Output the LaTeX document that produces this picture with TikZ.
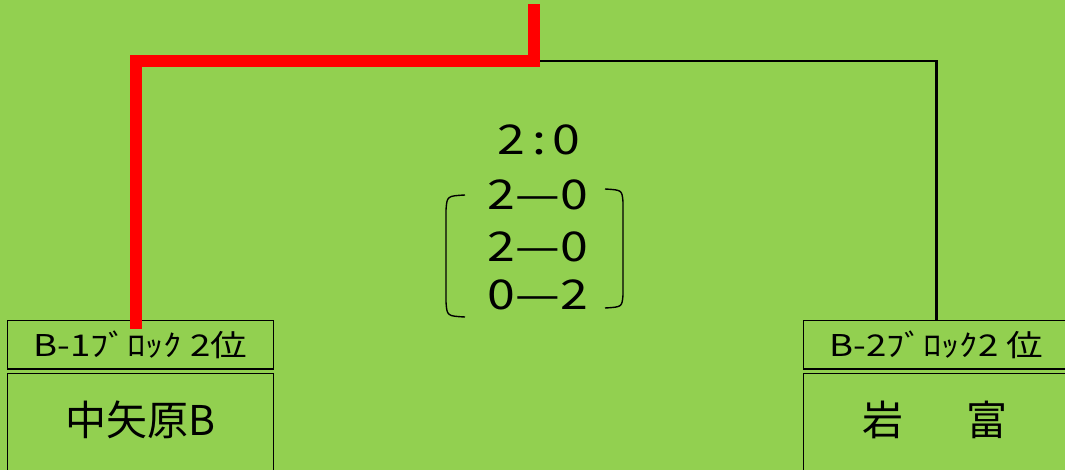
\documentclass[tikz,border=0pt]{standalone}
\usepackage{fontspec}
\setmainfont{Noto Sans CJK JP}
\newfontfamily\widefont{Noto Sans CJK JP}[FakeStretch=1.22]
\definecolor{fieldgreen}{RGB}{146,208,80}
\definecolor{winred}{RGB}{255,0,0}

\begin{document}
\begin{tikzpicture}[x=1pt, y=-1pt,
  hdr/.style={draw, line width=0.9pt, minimum width=266pt, minimum height=48pt,
    anchor=north west, inner sep=0pt, font=\widefont\fontsize{30}{30}\selectfont},
  body/.style={draw, line width=0.9pt, minimum width=266pt, minimum height=110pt,
    anchor=north west, inner sep=0pt},
  team/.style={font=\fontsize{41}{41}\selectfont, inner sep=0pt},
  score/.style={font=\widefont\fontsize{41}{41}\selectfont, inner sep=0pt},
  winline/.style={winred, line width=12pt, line join=miter},
  line/.style={black, line width=2.5pt}]
  \useasboundingbox[fill=fieldgreen] (0,0) rectangle (1065,470);

  % blocks
  \node[hdr] (hdrL) at (7,320) {B-1ﾌﾞﾛｯｸ 2位};
  \node[body] (bodyL) at (7,373) {};
  \draw[line width=2.5pt] (hdrL.south west) -- (hdrL.south east);
  \node[team] (nameL) at (140,420) {中矢原B};

  \node[hdr] (hdrR) at (803,320) {B-2ﾌﾞﾛｯｸ2 位};
  \node[body] (bodyR) at (803,373) {};
  \draw[line width=2.5pt] (hdrR.south west) -- (hdrR.south east);
  \node[team] (nameR) at (935,420) {岩\hspace{1.55em}富};

  % bracket lines
  \coordinate (top) at (534,4);
  \coordinate (join) at (534,61);
  \draw[line] (join) -| (hdrR.north);
  \draw[winline] ([xshift=-4pt,yshift=-9pt]hdrL.north) |- (join) -- (top);

  % result
  \node[score] (res) at (539,140) {2\,:\,0};
  \node[score] (set1) at (538,195) {2—0};
  \node[score] (set2) at (538,247) {2—0};
  \node[score] (set3) at (538,295) {0—2};
  \draw[line width=1.4pt] (465,195) .. controls (447,196) .. (446,210) -- (446,302)
    .. controls (447,316) .. (465,317);
  \draw[line width=1.4pt] (605,189) .. controls (622,190) .. (623,202) -- (623,295)
    .. controls (622,307) .. (605,308);
\end{tikzpicture}
\end{document}
